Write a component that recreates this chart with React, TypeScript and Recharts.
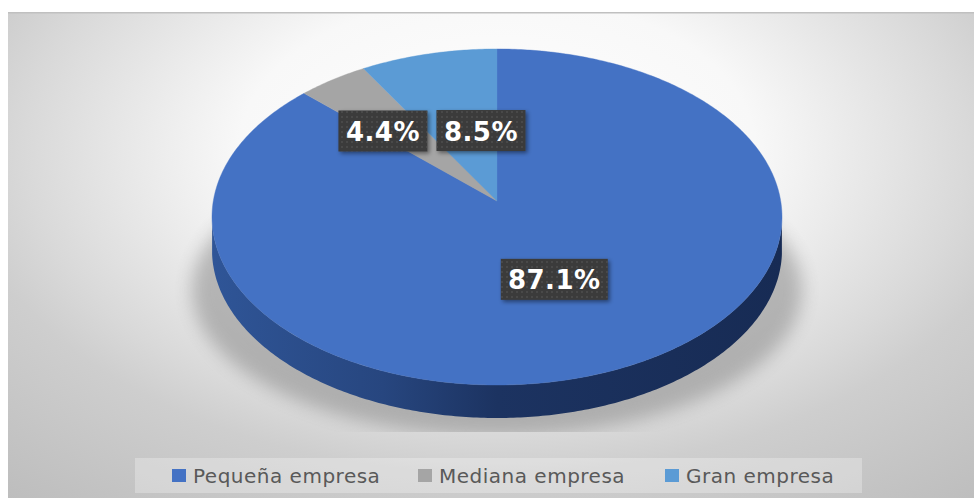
import React from 'react';
import { PieChart, Pie, Cell, Legend } from 'recharts';

// Company-size shares, in percent.
const sizeNames = ['Pequeña empresa', 'Mediana empresa', 'Gran empresa'];
const sizeShares = [87.1, 4.4, 8.5];
const faceColors = ['#4472c4', '#a5a5a5', '#5b9bd5'];

const tableRows = sizeNames.map((name, i) => ({ name, value: sizeShares[i] }));

// Tilted-disc projection: unit disc coordinates to screen pixels.
const APEX_Y = 201;
const DISC_RADIUS = 283.7;
const TILT_DEPTH = 166.5;
const PERSPECTIVE = 0.0952;
const WALL_HEIGHT = 33;

type Pt = [number, number];
const RAD = Math.PI / 180;

const project = (cx: number, r: number, degrees: number, fraction = 1): Pt => {
  const u = Math.cos(degrees * RAD) * fraction;
  const v = -Math.sin(degrees * RAD) * fraction;
  const w = 1 - PERSPECTIVE * v;
  return [cx + (r * u) / w, APEX_Y + ((r * TILT_DEPTH) / DISC_RADIUS) * (v / w)];
};

const arcPoints = (cx: number, r: number, from: number, to: number): Pt[] => {
  const steps = Math.max(2, Math.ceil(Math.abs(to - from) * 1.5));
  return Array.from({ length: steps + 1 }, (_, i) =>
    project(cx, r, from + ((to - from) * i) / steps),
  );
};

const toPath = (pts: Pt[]) =>
  pts.map(([x, y], i) => `${i ? 'L' : 'M'}${x.toFixed(2)} ${y.toFixed(2)}`).join(' ');

// Visible front rim of the disc, left to right, and its extruded lower edge.
const frontWall = (cx: number, r: number) => {
  const rim = arcPoints(cx, r, 187, 353);
  const lower = rim.map(([x, y]) => [x, y + WALL_HEIGHT] as Pt).reverse();
  return `${toPath(rim)} ${toPath(lower).replace('M', 'L')} Z`;
};

const ProjectedSector = (props: any) => {
  const { cx, outerRadius, startAngle, endAngle, fill, index } = props;
  const face = `${toPath(arcPoints(cx, outerRadius, startAngle, endAngle))} L${cx} ${APEX_Y} Z`;
  const first = index === 0 || props.name === sizeNames[0];
  return (
    <g>
      {first && (
        <g>
          <g clipPath="url(#floorClip)">
            <ellipse
              cx={cx}
              cy={APEX_Y + 89}
              rx={outerRadius * 1.075}
              ry={146}
              fill="#7c7c7c"
              opacity={0.48}
              filter="url(#floorShadow)"
            />
          </g>
          <path d={frontWall(cx, outerRadius)} fill="url(#wallShade)" />
        </g>
      )}
      <path d={face} fill={fill} stroke={fill} strokeWidth={0.4} />
    </g>
  );
};

// Per-slice placement of the value tags within the disc: radial fraction and angular shift.
const tagPlacement = [
  { fraction: 0.49, shift: 0 },
  { fraction: 0.606, shift: 5.2 },
  { fraction: 0.445, shift: -7.7 },
];

const ValueTag = (props: any) => {
  const { cx, outerRadius, midAngle, index, value } = props;
  const place = tagPlacement[index];
  const [x, y] = project(cx, outerRadius, midAngle + place.shift, place.fraction);
  const text = `${Number(value).toFixed(1)}%`;
  const w = text.length >= 5 ? 107 : 89;
  const h = 41;
  return (
    <g>
      <rect x={x - w / 2} y={y - h / 2} width={w} height={h} fill="#3a3a3a" filter="url(#tagShadow)" />
      <rect x={x - w / 2} y={y - h / 2} width={w} height={h} fill="url(#tagDots)" />
      <text
        x={x}
        y={y + 1}
        textAnchor="middle"
        dominantBaseline="central"
        fill="#ffffff"
        fontFamily="'DejaVu Sans', sans-serif"
        fontWeight={700}
        fontSize={26}
        letterSpacing={0.5}
      >
        {text}
      </text>
    </g>
  );
};

const LegendBand = ({ payload }: any) => {
  const starts = [172, 418, 665];
  return (
    <div style={{ position: 'relative', width: 727, height: 35, background: 'rgba(255,255,255,0.28)' }}>
      {(payload ?? []).map((entry: any, i: number) => (
        <div
          key={entry.value}
          style={{
            position: 'absolute',
            left: starts[i] - 135,
            top: 0,
            height: 35,
            display: 'flex',
            alignItems: 'center',
            whiteSpace: 'nowrap',
            fontFamily: "'DejaVu Sans', sans-serif",
            fontSize: 20,
            letterSpacing: 0.5,
            color: '#595959',
          }}
        >
          <span style={{ width: 14, height: 13, marginRight: 7, background: entry.color, display: 'inline-block' }} />
          {entry.value}
        </div>
      ))}
    </div>
  );
};

export default function App() {
  return (
    <div style={{ position: 'absolute', left: 0, top: 0, width: 974, height: 498, background: '#ffffff' }}>
      <PieChart width={974} height={498} margin={{ top: 0, right: 0, bottom: 0, left: 0 }}>
        <defs>
          <radialGradient id="panelGlow" gradientUnits="userSpaceOnUse" cx={497} cy={150} r={760}
            gradientTransform="translate(497 150) scale(1 0.6) translate(-497 -150)">
            <stop offset="0%" stopColor="#ffffff" />
            <stop offset="34%" stopColor="#f8f8f8" />
            <stop offset="62%" stopColor="#d9d9d9" />
            <stop offset="71%" stopColor="#cecece" />
            <stop offset="100%" stopColor="#bdbdbd" />
          </radialGradient>
          <linearGradient id="wallShade" gradientUnits="userSpaceOnUse" x1={212} y1={0} x2={782} y2={0}>
            <stop offset="0%" stopColor="#2f5597" />
            <stop offset="30%" stopColor="#27467f" />
            <stop offset="50%" stopColor="#1c3361" />
            <stop offset="100%" stopColor="#172b54" />
          </linearGradient>
          <filter id="floorShadow" x="-10%" y="-15%" width="120%" height="130%">
            <feGaussianBlur stdDeviation="9" />
          </filter>
          <clipPath id="floorClip">
            <rect x={150} y={100} width={700} height={332} />
          </clipPath>
          <filter id="tagShadow" x="-15%" y="-25%" width="130%" height="150%">
            <feDropShadow dx="2" dy="2" stdDeviation="2" floodColor="#000000" floodOpacity="0.45" />
          </filter>
          <pattern id="tagDots" width="5" height="5" patternUnits="userSpaceOnUse">
            <circle cx="2" cy="2" r="0.8" fill="#5a5a5a" />
          </pattern>
        </defs>
        <rect x={8} y={12} width={966} height={486} fill="url(#panelGlow)" />
        <rect x={8} y={12} width={966} height={1.5} fill="#c0c0c0" />
        <Pie
          data={tableRows}
          dataKey="value"
          nameKey="name"
          cx={497}
          cy={APEX_Y}
          outerRadius={DISC_RADIUS}
          startAngle={90}
          endAngle={-270}
          stroke="none"
          isAnimationActive={false}
          labelLine={false}
          label={ValueTag}
          shape={ProjectedSector}
          inactiveShape={ProjectedSector}
        >
          {tableRows.map((row, i) => (
            <Cell key={row.name} fill={faceColors[i]} />
          ))}
        </Pie>
        <Legend
          content={LegendBand}
          itemSorter={null}
          layout="horizontal"
          wrapperStyle={{ position: 'absolute', left: 135, top: 458, width: 727, height: 35 }}
        />
      </PieChart>
    </div>
  );
}
